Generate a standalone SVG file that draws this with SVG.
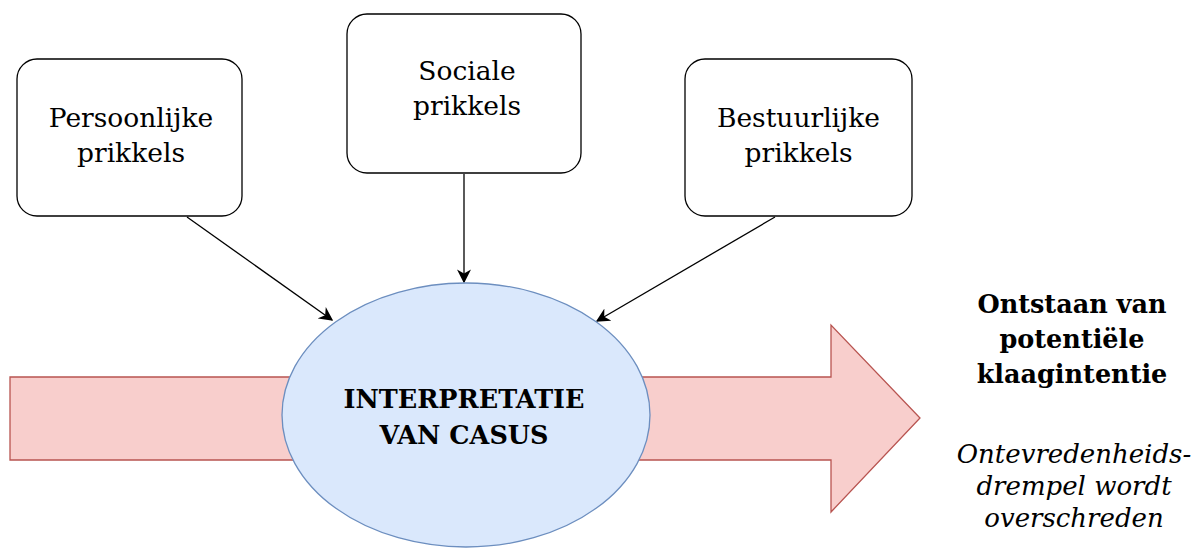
<svg xmlns="http://www.w3.org/2000/svg" width="1197" height="551" viewBox="0 0 1197 551">
  <style>
    .box { fill: #ffffff; stroke: #000000; stroke-width: 1.3; }
    .lbl { font-family: "DejaVu Serif", "Liberation Serif", serif; font-size: 26.5px; fill: #000; text-anchor: middle; }
    .bold { font-family: "DejaVu Serif", "Liberation Serif", serif; font-size: 25.5px; font-weight: bold; fill: #000; text-anchor: middle; }
    .ital { font-family: "DejaVu Serif", "Liberation Serif", serif; font-size: 26px; font-style: italic; fill: #000; text-anchor: middle; }
    .edge { stroke: #000; stroke-width: 1.3; fill: none; marker-end: url(#head); }
  </style>
  <defs>
    <marker id="head" viewBox="0 0 10 10" refX="9" refY="5" markerWidth="14" markerHeight="14" markerUnits="userSpaceOnUse" orient="auto">
      <path d="M0,0 L10,5 L0,10 L3,5 Z" fill="#000"/>
    </marker>
  </defs>

  <!-- big flow arrow behind the central node -->
  <g id="flow">
    <path d="M10,377 L831,377 L831,325 L920,418 L831,512 L831,460 L10,460 Z" fill="#f8cecc" stroke="#b85450" stroke-width="1.3" stroke-linejoin="miter"/>
  </g>

  <g id="connectors">
    <line class="edge" x1="187" y1="217" x2="332" y2="320"/>
    <line class="edge" x1="464" y1="174" x2="464" y2="282"/>
    <line class="edge" x1="775" y1="217" x2="597" y2="321"/>
  </g>

  <g id="persoonlijk">
    <rect class="box" x="17" y="59" width="225" height="157" rx="20"/>
    <text class="lbl" x="131" y="127">Persoonlijke</text>
    <text class="lbl" x="131" y="162">prikkels</text>
  </g>

  <g id="sociaal">
    <rect class="box" x="347" y="14" width="234" height="159" rx="20"/>
    <text class="lbl" x="467" y="80">Sociale</text>
    <text class="lbl" x="467" y="115">prikkels</text>
  </g>

  <g id="bestuurlijk">
    <rect class="box" x="685" y="59" width="227" height="157" rx="20"/>
    <text class="lbl" x="798.5" y="127">Bestuurlijke</text>
    <text class="lbl" x="798.5" y="162">prikkels</text>
  </g>

  <g id="interpretatie">
    <ellipse cx="466" cy="415" rx="184" ry="132" fill="#dae8fc" stroke="#6c8ebf" stroke-width="1.3"/>
    <text class="bold" x="464" y="408">INTERPRETATIE</text>
    <text class="bold" x="464" y="444">VAN CASUS</text>
  </g>

  <g id="uitkomst">
    <text class="bold" x="1072" y="313">Ontstaan van</text>
    <text class="bold" x="1072" y="348">potentiële</text>
    <text class="bold" x="1072" y="383">klaagintentie</text>
    <text class="ital" x="1074" y="463">Ontevredenheids-</text>
    <text class="ital" x="1074" y="495">drempel wordt</text>
    <text class="ital" x="1074" y="527">overschreden</text>
  </g>
</svg>
